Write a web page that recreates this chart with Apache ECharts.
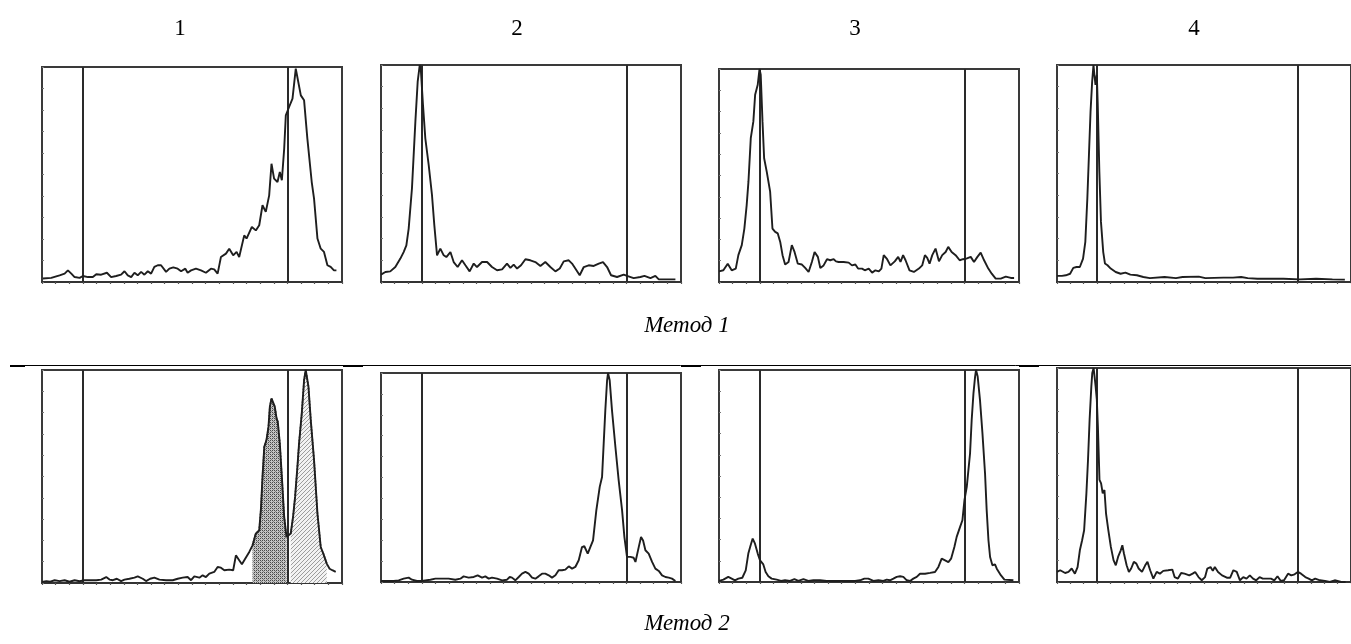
<!DOCTYPE html>
<html>
<head>
<meta charset="utf-8">
<script src="https://cdn.jsdelivr.net/npm/echarts@6/dist/echarts.min.js"></script>
<style>
html,body{margin:0;padding:0;background:#fff;}
#chart{width:1351px;height:644px;}
</style>
</head>
<body>
<div id="chart"></div>
<script>
// ---- data ----
const panelTitles = ['1', '2', '3', '4'];
const methodLabels = ['Метод 1', 'Метод 2'];
const markerPositions = [30, 180];
const xTicks = { min: 0, max: 220, interval: 10 };

// Method 1
const m1p1 = [[0.7,1.6],[6.8,1.9],[12.9,3.1],[16.6,3.9],[19,5.4],[21.5,3.9],[23.9,2.3],[27.6,1.9],[30,2.8],[33.7,2.3],[37.3,2.3],[39.8,3.6],[43.4,3.4],[47.6,4.3],[50.7,2.3],[54.4,2.8],[58,3.4],[60.5,5],[62.9,3.1],[65.4,2.3],[67.8,4.3],[70.2,3.1],[72.7,4.7],[75.1,3.4],[77.6,5],[80,3.9],[82.4,7],[84.9,7.8],[87.3,7.8],[91,4.7],[93.4,6.2],[96.3,6.8],[99.5,6.2],[102,5],[105.1,6.2],[106.8,4.3],[109.3,5.4],[112.9,6.2],[116.6,5.4],[120.2,4.3],[123.9,6.2],[126.3,5.9],[128.8,3.9],[131.2,11.6],[134.9,13.2],[137.3,15.5],[140.2,12.4],[142.7,14],[144.6,11.6],[148.3,21.7],[150,20.2],[153.9,25.6],[156.8,24],[159.3,26.4],[161.7,35.7],[164.1,32.6],[166.6,40.3],[168.3,55],[170.2,48.1],[172.7,46.5],[174.4,51.2],[175.9,47.3],[177.6,62],[178.8,77.5],[181.2,81.4],[183.7,85.3],[186.1,99.2],[187.3,100],[189.8,86.8],[192.2,84.5],[194.6,66.7],[197.8,46.5],[199.5,38.8],[202,20.2],[204.4,15.5],[206.8,14],[209.3,7.8],[211.7,7],[214.1,5.4],[215.9,5.4]];
const m1p2 = [[0,3.4],[3.2,4.6],[6.8,4.9],[10.5,6.9],[14.2,10.8],[16.6,13.8],[18.6,16.9],[20.3,24.6],[22.7,43.1],[25.2,73.8],[26.9,92.3],[28.4,100],[29.3,96.9],[30.8,81.5],[32.5,66.2],[35,53.8],[37.4,40],[39.1,26.2],[41.1,12.3],[43.5,15.4],[46,12.3],[47.9,11.5],[50.9,13.8],[53.3,9.2],[56.2,6.9],[59.4,10],[61.9,7.7],[65,4.9],[68,8.5],[70.4,6.9],[74.1,9.2],[77.8,9.2],[81.4,6.9],[85.1,5.4],[88.8,5.8],[92.4,8.5],[94.9,6.5],[97.3,8],[99.8,6.2],[102.7,7.7],[105.9,10.5],[109.5,10],[113.2,9.2],[116.9,7.4],[120.5,9.2],[124.2,6.9],[127.9,4.9],[131.1,6.2],[134,9.5],[137.7,10],[140.1,8.5],[142.5,6.2],[145.7,3.1],[148.7,6.9],[152.3,7.7],[156,7.4],[159.7,8.5],[162.8,9.2],[165.8,6.9],[168.7,3.1],[173.1,2.3],[178,3.4],[180.4,2.8],[185.3,1.8],[190.2,2.3],[193.2,2.8],[197.6,1.8],[201.2,2.8],[203.7,1.2],[207.3,1.2],[215.9,1.2]];
const m1p3 = [[0,5],[3.2,5.5],[6.4,8.6],[9.3,5.5],[12.3,6.3],[14.2,12.6],[16.7,17.3],[18.6,25.1],[20.3,36.1],[21.6,47.1],[23.3,67.5],[25.2,75.4],[26.5,87.9],[28.4,92.6],[29.7,100],[30.6,97.3],[31.9,75.4],[33.1,58.1],[35,51.8],[37.5,42.4],[39.2,25.1],[41.2,23.5],[43.1,22.8],[44.9,18.8],[46.6,12.6],[48.5,8.2],[51,9.4],[53.4,17.3],[55.4,14.1],[57.8,8.6],[60.8,8.2],[63.2,6.6],[65.7,4.7],[68.1,9.4],[70.1,14.1],[72.5,11.8],[74.3,6.6],[76.7,7.8],[79.2,10.7],[81.6,10.2],[84.1,10.7],[85.8,9.7],[87.7,9.4],[91.4,9.4],[95.1,9.1],[97.5,7.8],[100,8.2],[102,6.3],[104.9,6.3],[106.9,5.5],[109.8,6.3],[112.3,4.4],[114.7,5.5],[117.2,5],[119.1,6.3],[120.8,12.6],[123.3,10.7],[125.7,7.8],[128.9,9.7],[131.4,11.8],[133.1,9.4],[135,12.6],[136.8,10.2],[139.7,5.5],[142.9,4.7],[146.6,6.3],[149,7.8],[151,12.6],[152.7,11.3],[154.4,8.6],[156.4,12.6],[158.8,15.7],[161.3,9.7],[163.7,12.6],[166.2,14.1],[168.1,16.5],[170.6,14.1],[173.5,12.6],[176.5,10.2],[178.9,10.7],[181.4,11],[184.6,11.8],[187,9.4],[189.5,11.8],[191.9,13.8],[194.4,10.2],[197.5,6.3],[200,3.9],[202.9,1.6],[206.6,1.6],[210.3,2.5],[214,1.9],[216.4,1.9]];
const m1p4 = [[0,2.8],[3.7,2.8],[6.6,3.1],[9.8,3.8],[12.2,6.5],[14.6,6.9],[17.1,6.9],[19.5,10.8],[21.2,18.5],[22.7,38.5],[23.9,58.5],[25.1,78.5],[26.3,92.3],[27.3,100],[28,95.4],[28.8,90.8],[29.8,95.4],[30.5,81.5],[31.7,50.8],[32.9,27.7],[34.6,13.8],[35.9,8.5],[37.8,7.7],[40.2,6.2],[43.9,4.6],[47.6,3.8],[51.2,4.3],[54.9,3.4],[59.8,3.1],[64.6,2.3],[69.5,1.8],[80.5,2.3],[89,1.8],[93.9,2.3],[106.1,2.5],[111,1.8],[124.4,2],[131.7,2],[137.8,2.3],[142.7,1.8],[150,1.5],[169.5,1.5],[181.7,1.2],[193.9,1.5],[206.1,1.2],[215.4,1.1]];

// Method 2
const m2p1 = [[0,0.5],[3.2,0.9],[6.1,0.6],[9.3,1.3],[12.9,0.9],[16.6,1.3],[20.2,0.6],[23.9,1.3],[27.6,0.8],[31.2,1.3],[34.9,1.3],[39.8,1.3],[43.4,1.6],[47.1,2.8],[49.5,1.6],[52,1.3],[54.9,2],[58,0.9],[60.5,1.6],[64.1,2],[67.8,2.5],[70.2,3.1],[73.9,2],[76.3,0.9],[79.3,2],[82.4,2.5],[86.1,1.6],[91,1.3],[95.9,1.3],[99.5,2],[103.2,2.5],[106.8,2.8],[109.3,1.3],[111.7,3.1],[115.4,2.5],[117.8,3.6],[120.2,2.8],[122.7,4.4],[126.3,5.2],[128.8,7.5],[131.2,7.2],[133.7,6],[137.3,6.3],[140.2,6],[142.2,13],[144.6,10.7],[146.6,8.8],[149,11.4],[152,14.6],[154.4,17.7],[156.8,23.2],[159.3,24.8],[160.5,34.2],[161.7,49.8],[163,63.9],[164.6,67.1],[166.1,73.4],[167.1,82.8],[168.3,86.7],[169.5,86.7],[170.7,82.8],[172,77.3],[172.9,75.7],[174.4,65.5],[175.9,49.8],[177.6,31],[179.3,21.6],[180.7,20.8],[182.4,23.2],[184.1,31],[185.6,40.4],[187.3,54.5],[188.5,65.5],[190.5,79.6],[192.2,95.3],[193.4,100],[195.4,92.2],[197.1,76.5],[199.5,57.7],[202,32.6],[204.4,16.9],[206.3,13.8],[208.8,9.1],[210.9,6.7],[212.9,6],[215.4,5.2]];
const m2p2 = [[0,0.5],[4.4,0.5],[9.3,0.5],[13,0.8],[16.6,1.6],[20.3,2.1],[22.7,1.1],[26.4,0.5],[30.1,0.5],[32.5,0.8],[36.2,1.1],[39.9,1.6],[44.7,1.6],[49.6,1.6],[54.5,1.1],[58.2,1.6],[60.6,2.7],[64.3,2.1],[68,2.4],[70.9,3.2],[74.1,2.1],[76.5,2.7],[79,1.6],[81.4,2.1],[85.1,1.6],[88.8,0.8],[92.4,1.1],[94.4,2.4],[96.1,2.1],[98.5,0.8],[101,2.4],[103.4,4],[105.9,4.8],[108.3,4],[110.8,2.1],[113.2,1.6],[115.6,2.7],[118.1,4],[120.5,4],[123,3.2],[125.4,2.1],[127.9,3.2],[130.3,5.6],[132.8,5.6],[135.2,5.9],[137.7,7.5],[140.1,6.4],[142.5,7.2],[145,10.4],[147.4,16.7],[149.1,17.1],[151.6,13.6],[153.5,16.7],[155.5,19.9],[157.9,34.3],[160.4,45.5],[162.1,50.2],[163.3,66.2],[164.5,82.1],[165.8,96.5],[166.5,100],[167.7,96.5],[169.4,82.1],[171.9,64.6],[174.3,48.6],[176.8,34.3],[178.5,21.5],[180.4,12],[182.9,12],[185.3,11.6],[186.6,9.6],[189,16.7],[190.7,21.5],[192.2,19.9],[193.9,15.2],[196.3,13.6],[198.8,9.6],[201.2,6.4],[203.7,5.3],[206.1,3.2],[208.6,2.4],[211,2.1],[213.4,1.6],[215.9,0.5]];
const m2p3 = [[0,0.5],[3.2,1.1],[6.8,2.4],[9.3,1.6],[11.7,0.8],[14.2,1.6],[17.1,2],[19.6,5.5],[21.5,13.4],[23.2,17.3],[24.7,20.5],[26.4,18.1],[28.4,13.4],[30.1,10.2],[32.5,8.3],[34.2,4.7],[36.2,2.7],[38.6,1.6],[42.3,1.1],[45.5,0.5],[48.4,0.8],[52.1,0.5],[55.3,1.4],[58.2,0.5],[61.9,1.4],[65.5,0.5],[69.2,0.8],[74.1,0.8],[79,0.5],[92.4,0.5],[99.8,0.5],[103.4,0.8],[106.6,1.6],[109.5,1.6],[113.2,0.5],[116.9,0.8],[120.5,0.5],[123,1.1],[125.4,0.8],[127.9,1.6],[130.3,2.4],[132.8,2.7],[135.2,2.4],[137.7,0.8],[140.1,0.5],[142.5,1.6],[145,2.4],[147.4,3.9],[151.1,3.9],[154.8,4.3],[158.4,4.7],[160.9,7.1],[163.3,11],[165.8,10.2],[168.2,9.4],[170.2,11],[172.6,16.5],[174.3,21.3],[176.8,26],[178.5,29.1],[180,38.6],[181.7,44.9],[182.9,52.8],[184.1,60.6],[185.3,76.4],[186.6,89],[187.8,96.9],[188.5,100],[189.7,96.9],[191.4,85.8],[193.2,70.1],[195.1,51.2],[196.3,33.9],[197.6,19.7],[198.8,11.8],[200.5,7.9],[202.4,8.3],[203.7,6.3],[204.9,5.8],[206.8,3.1],[209.3,1.1],[215.9,0.8]];
const m2p4 = [[0,4.7],[2.4,5.5],[6.1,4.2],[8.6,4.7],[11,6.3],[13.4,3.9],[15.4,7],[17.1,14.8],[18.8,19.5],[20.3,24.2],[22,41.4],[23.2,57],[24.4,75.8],[25.7,91.4],[26.4,97.7],[27.4,100],[28.1,96.1],[28.9,91.4],[29.8,85.2],[30.6,72.7],[31.8,47.7],[33,46.1],[34.2,41.4],[35.5,43],[36.7,32],[38.4,24.2],[40.3,16.4],[42.3,10.2],[44,7.8],[45.7,11.7],[47.7,14.8],[48.9,17.2],[50.1,13.3],[52.1,7.8],[53.8,4.7],[55.5,6.3],[57.5,9.4],[59.4,8.6],[61.1,6.3],[63.6,4.7],[66,7.8],[67.7,9.4],[69.7,5.5],[72.1,1.6],[74.6,4.7],[77,3.9],[79.5,5.2],[83.1,5.5],[86.3,5.8],[88,2.3],[90.5,1.6],[92.9,4.2],[95.4,3.9],[99,3.1],[101.5,3.9],[103.4,4.7],[105.9,2.3],[108.3,0.8],[110.8,2.3],[112.5,6.3],[114.9,7],[116.6,5.2],[118.1,7],[120.5,4.7],[123.5,3.1],[127.1,2],[129.6,2],[132,5.5],[134.5,4.7],[136.9,0.8],[139.4,2.3],[141.8,1.6],[144.3,3.1],[146.7,1.6],[149.1,0.8],[151.6,2.3],[154,1.6],[160.1,1.6],[162.6,0.8],[165,2.7],[167.5,0.5],[169.9,0.8],[172.9,3.9],[175.3,3.1],[177.8,3.6],[180.2,4.7],[182.6,3.9],[185.8,2.3],[188.3,1.6],[190.7,0.8],[193.2,1.6],[196.8,0.8],[200.5,0.5],[204.2,0],[207.8,0.8],[212.7,0],[215.9,0]];

// gated regions on Method 2, panel 1
const gateDark = [154, 179.5];
const gateLight = [181, 209];

const seriesData = [m1p1, m1p2, m1p3, m1p4, m2p1, m2p2, m2p3, m2p4];

// ---- layout (style) ----
const gridBoxes = [
  {left: 42, top: 67, height: 215},
  {left: 381, top: 65, height: 217},
  {left: 719, top: 69, height: 213},
  {left: 1057, top: 65, height: 217},
  {left: 42, top: 370, height: 213},
  {left: 381, top: 373, height: 209},
  {left: 719, top: 370, height: 212},
  {left: 1057, top: 368, height: 214}
];
const panelWidth = 300;

function makePattern(kind) {
  const c = document.createElement('canvas');
  c.width = 4; c.height = 4;
  const g = c.getContext('2d');
  if (kind === 'dark') {
    g.fillStyle = '#c4c4c4'; g.fillRect(0, 0, 4, 4);
    g.fillStyle = '#4a4a4a';
    g.fillRect(0, 0, 1, 1); g.fillRect(2, 2, 1, 1);
    g.fillRect(2, 0, 1, 1); g.fillRect(0, 2, 1, 1);
    g.fillStyle = '#808080';
    g.fillRect(1, 1, 1, 1); g.fillRect(3, 3, 1, 1);
  } else {
    g.fillStyle = '#f2f2f2'; g.fillRect(0, 0, 4, 4);
    g.fillStyle = '#9c9c9c';
    g.fillRect(3, 0, 1, 1); g.fillRect(2, 1, 1, 1);
    g.fillRect(1, 2, 1, 1); g.fillRect(0, 3, 1, 1);
  }
  return {image: c, repeat: 'repeat'};
}

const grids = [], xAxes = [], yAxes = [], series = [];
gridBoxes.forEach((b, i) => {
  grids.push({left: b.left, top: b.top, width: panelWidth, height: b.height,
    show: true, borderColor: '#3a3a3a', borderWidth: 2, backgroundColor: 'transparent', containLabel: false});
  xAxes.push({type: 'value', gridIndex: i, min: xTicks.min, max: xTicks.max, interval: xTicks.interval,
    axisLine: {show: true, lineStyle: {color: '#333', width: 2}},
    axisTick: {show: true, inside: false, length: 2, lineStyle: {color: '#555', width: 1.2}},
    axisLabel: {show: false}, splitLine: {show: false}});
  yAxes.push({type: 'value', gridIndex: i, min: 0, max: 100, interval: 10,
    axisLine: {show: false},
    axisTick: {show: true, inside: true, length: 2, lineStyle: {color: '#777', width: 1}},
    axisLabel: {show: false}, splitLine: {show: false}});
});

seriesData.forEach((d, i) => {
  series.push({
    type: 'line', xAxisIndex: i, yAxisIndex: i, data: d, showSymbol: false, symbol: 'none',
    lineStyle: {color: '#1e1e1e', width: 1.9}, z: 5, silent: true, animation: false,
    markLine: {silent: true, symbol: ['none', 'none'], label: {show: false}, animation: false,
      lineStyle: {color: '#2a2a2a', width: 2, type: 'solid'},
      data: markerPositions.map(v => ({xAxis: v}))}
  });
});

function gateSeries(range, kind) {
  const d = m2p1.filter(p => p[0] >= range[0] && p[0] <= range[1]);
  return {
    type: 'line', xAxisIndex: 4, yAxisIndex: 4, data: d, showSymbol: false, symbol: 'none',
    lineStyle: {color: '#333', width: 1.6, type: 'dotted'},
    areaStyle: {color: makePattern(kind), opacity: 1, origin: 'start'},
    z: 3, silent: true, animation: false
  };
}
series.push(gateSeries(gateDark, 'dark'));
series.push(gateSeries(gateLight, 'light'));

const titleFont = {fontFamily: '"Liberation Serif", "DejaVu Serif", serif', fontSize: 23, color: '#000', fontWeight: 'normal'};
const titleX = [175, 512, 850, 1189];
const titles = panelTitles.map((t, i) => ({text: t, left: titleX[i], top: 12, textAlign: 'center', textStyle: titleFont}));
titles.push({text: methodLabels[0], left: 682, top: 309, textAlign: 'center', textStyle: Object.assign({}, titleFont, {fontStyle: 'italic'})});
titles.push({text: methodLabels[1], left: 682, top: 607, textAlign: 'center', textStyle: Object.assign({}, titleFont, {fontStyle: 'italic'})});

const chart = echarts.init(document.getElementById('chart'), null, {renderer: 'canvas'});
chart.setOption({
  animation: false,
  backgroundColor: '#fff',
  title: titles,
  grid: grids,
  xAxis: xAxes,
  yAxis: yAxes,
  series: series,
  graphic: [
    {type: 'line', shape: {x1: 10, y1: 365.5, x2: 1351, y2: 365.5}, style: {stroke: '#000', lineWidth: 1}},
    {type: 'line', shape: {x1: 10, y1: 366, x2: 25, y2: 366}, style: {stroke: '#000', lineWidth: 2}},
    {type: 'line', shape: {x1: 343, y1: 366, x2: 363, y2: 366}, style: {stroke: '#000', lineWidth: 2}},
    {type: 'line', shape: {x1: 681, y1: 366, x2: 701, y2: 366}, style: {stroke: '#000', lineWidth: 2}},
    {type: 'line', shape: {x1: 1019, y1: 366, x2: 1039, y2: 366}, style: {stroke: '#000', lineWidth: 2}}
  ]
});
</script>
</body>
</html>
